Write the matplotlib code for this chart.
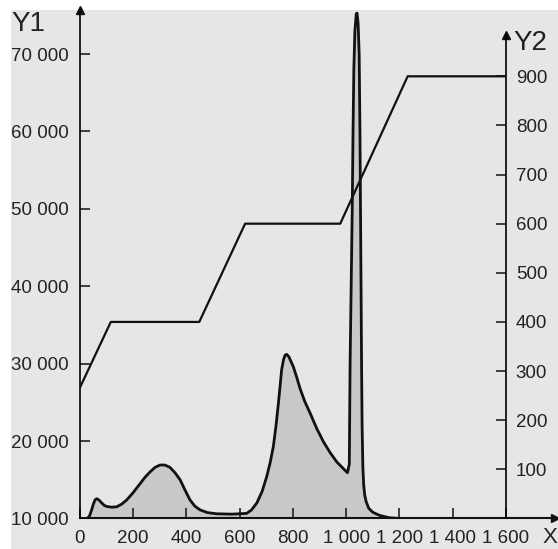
import matplotlib.pyplot as plt
from matplotlib.patches import Rectangle
from matplotlib.ticker import FuncFormatter

# Y1 curve (filled)
x1 = [0, 30, 38, 45, 52, 58, 64, 72, 83, 92, 101, 120, 139, 158, 177, 200,
      227, 245, 264, 283, 302, 320, 339, 358, 377, 395, 414, 432, 452, 480,
      514, 570, 627, 645, 665, 685, 702, 715, 727, 737, 746, 752, 758, 765,
      771, 777, 785, 793, 802, 815, 827, 845, 865, 890, 915, 940, 965, 985,
      1005, 1012, 1015, 1019, 1023, 1026, 1029, 1033, 1038, 1041, 1045, 1049,
      1052, 1054, 1056, 1058, 1060, 1063, 1066, 1070, 1075, 1085, 1100, 1125,
      1160, 1200, 1600]
y1 = [10000, 10000, 10400, 11100, 11900, 12400, 12550, 12400, 12000, 11700,
      11550, 11450, 11500, 11850, 12400, 13300, 14500, 15300, 16000, 16600,
      16900, 16900, 16600, 15900, 15000, 13700, 12400, 11600, 11100, 10750,
      10600, 10550, 10650, 11100, 12000, 13500, 15400, 17200, 19300, 22000,
      24900, 27000, 29200, 30500, 31100, 31200, 30900, 30300, 29600, 28200,
      26800, 25100, 23600, 21600, 19900, 18500, 17300, 16600, 15900,
      17000, 30000, 40000, 50000, 60000, 68000, 73000, 75200, 75300, 74000,
      70000, 60000, 50000, 40000, 30000, 22000, 16500, 14300, 13000, 12200,
      11300, 10800, 10400, 10100, 10000, 10000]

# Y2 ramp line
x2 = [0, 117, 449, 621, 978, 1231, 1600]
y2 = [265, 400, 400, 600, 600, 900, 900]

x_ticks = [0, 200, 400, 600, 800, 1000, 1200, 1400, 1600]
y1_ticks = [10000, 20000, 30000, 40000, 50000, 60000, 70000]
y2_ticks = [100, 200, 300, 400, 500, 600, 700, 800, 900]

plt.rcParams['font.family'] = ['Liberation Sans', 'DejaVu Sans']
ink = '#111111'
txt = '#222222'

fig = plt.figure(figsize=(5.58, 5.49), dpi=100, facecolor='white')
fig.patches.append(Rectangle((11 / 558, 0), 1, 1 - 10 / 549, transform=fig.transFigure,
                             facecolor='#e6e6e6', edgecolor='none', zorder=-10))

ax = fig.add_axes([0.1427, 0.0557, 0.7641, 0.9261])
ax.set_facecolor('none')
ax2 = ax.twinx()
ax2.set_facecolor('none')

sep = FuncFormatter(lambda v, p: f"{v:,.0f}".replace(",", " "))

# filled curve
ax.fill_between(x1, y1, 10000, color='#c8c8c8', lw=0, zorder=1)
ax.plot(x1, y1, color=ink, lw=2.0, solid_joinstyle='round', zorder=3)
ax.set_xlim(0, 1600)
ax.set_ylim(10000, 75700)
ax.set_xticks(x_ticks)
ax.set_yticks(y1_ticks)
ax.xaxis.set_major_formatter(sep)
ax.yaxis.set_major_formatter(sep)

ax2.plot(x2, y2, color=ink, lw=1.6, zorder=3)
ax2.set_ylim(0, 1035)
ax2.set_yticks(y2_ticks)

for a in (ax, ax2):
    for s in a.spines.values():
        s.set_visible(False)
    a.tick_params(direction='in', length=7, width=1.1, color=ink,
                  labelsize=13.5, labelcolor=txt)
ax.tick_params(axis='y', pad=8)
ax.tick_params(axis='x', pad=8)
ax2.tick_params(axis='y', pad=7)

# axis lines with arrow heads
ax.spines['left'].set_visible(True)
ax.spines['left'].set_linewidth(1.2)
ax.plot([0], [1], marker='^', color=ink, ms=6, transform=ax.transAxes, clip_on=False)
ax.plot([0, 1.115], [0, 0], color=ink, lw=1.5, transform=ax.transAxes, clip_on=False)
ax.plot([1.115], [0], marker='>', color=ink, ms=6, transform=ax.transAxes, clip_on=False)
ax2.spines['right'].set_visible(True)
ax2.spines['right'].set_linewidth(1.2)
ax2.spines['right'].set_bounds(0, 985)
ax2.plot([1], [985], marker='^', color=ink, ms=6, transform=ax2.get_yaxis_transform(),
         clip_on=False)

fig.text(11 / 558, 1 - 11 / 549, 'Y1', fontsize=20, color=txt, va='top', ha='left')
fig.text(513 / 558, 1 - 30 / 549, 'Y2', fontsize=20, color=txt, va='top', ha='left')
fig.text(557 / 558, 1 / 549, 'X', fontsize=16, color=txt, va='bottom', ha='right')

fig.savefig('out.png', dpi=100, facecolor=fig.get_facecolor())
